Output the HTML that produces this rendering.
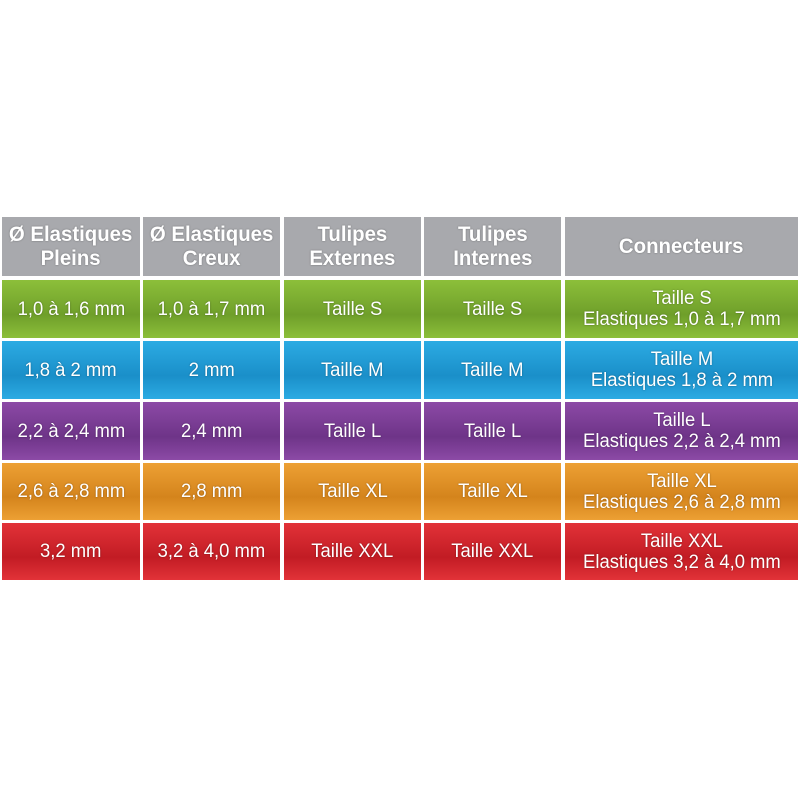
<!DOCTYPE html><html><head><style>
body{margin:0;width:800px;height:800px;background:#fff;position:relative;overflow:hidden;font-family:"Liberation Sans",sans-serif;}
.c{position:absolute;display:flex;align-items:center;justify-content:center;text-align:center;color:#fff;font-size:19px;line-height:21px;text-shadow:0 0 2px rgba(0,0,0,.35);}
.c span{display:inline-block;transform:scaleX(0.97);white-space:nowrap;}
.h{background:#a8a9ad;font-weight:bold;font-size:21px;line-height:24px;}
.h span{transform:scaleX(0.97);}
.g{background:linear-gradient(#8cbf3a,#6f9f2a 60%,#8cbf3a);}
.b{background:linear-gradient(#2cabe3,#1a8fc9 60%,#2cabe3);}
.p{background:linear-gradient(#8c4aa6,#6e3488 60%,#8c4aa6);}
.o{background:linear-gradient(#eda034,#d4841c 60%,#eda034);}
.r{background:linear-gradient(#e23238,#c21c24 60%,#e23238);}
</style></head><body>
<div id="t"></div>
<script>
var xs=[[2,140],[143,280],[284,421],[424,561],[565,798]];
var ys=[[217,276],[280,338],[341,399],[402,460],[463,520],[523,580]];
var cls=['h','g','b','p','o','r'];
var data=[["Ø Elastiques<br>Pleins","Ø Elastiques<br>Creux","Tulipes<br>Externes","Tulipes<br>Internes","Connecteurs"],
["1,0 à 1,6 mm","1,0 à 1,7 mm","Taille S","Taille S","Taille S<br>Elastiques 1,0 à 1,7 mm"],
["1,8 à 2 mm","2 mm","Taille M","Taille M","Taille M<br>Elastiques 1,8 à 2 mm"],
["2,2 à 2,4 mm","2,4 mm","Taille L","Taille L","Taille L<br>Elastiques 2,2 à 2,4 mm"],
["2,6 à 2,8 mm","2,8 mm","Taille XL","Taille XL","Taille XL<br>Elastiques 2,6 à 2,8 mm"],
["3,2 mm","3,2 à 4,0 mm","Taille XXL","Taille XXL","Taille XXL<br>Elastiques 3,2 à 4,0 mm"]];
var h='';
for(var r=0;r<6;r++)for(var c=0;c<5;c++){
h+='<div class="c '+cls[r]+'" style="left:'+xs[c][0]+'px;top:'+ys[r][0]+'px;width:'+(xs[c][1]-xs[c][0])+'px;height:'+(ys[r][1]-ys[r][0])+'px"><span>'+data[r][c]+'</span></div>';}
document.getElementById('t').innerHTML=h;
</script>
</body></html>
